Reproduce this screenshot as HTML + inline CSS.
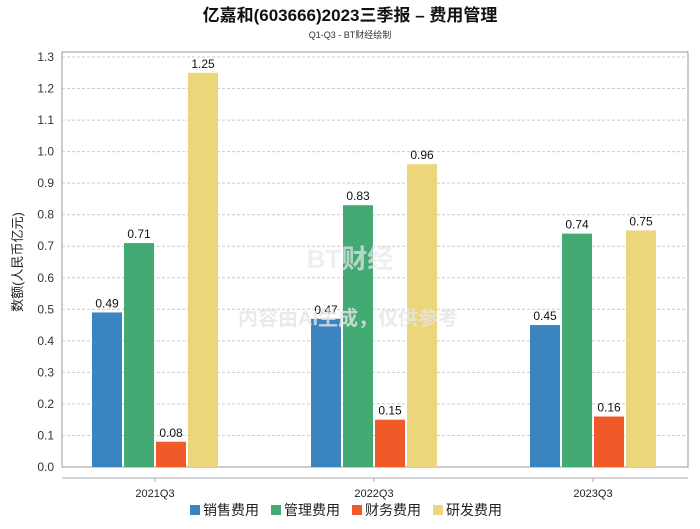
<!DOCTYPE html>
<html><head><meta charset="utf-8"><style>
body{margin:0;background:#fff;font-family:"Liberation Sans","Noto Sans CJK SC",sans-serif}
</style></head><body>
<svg id="c" width="700" height="524" xmlns="http://www.w3.org/2000/svg" font-family="Liberation Sans, Noto Sans CJK SC, sans-serif">
<text x="350" y="21" text-anchor="middle" font-size="17" font-weight="bold" fill="#111">亿嘉和(603666)2023三季报 – 费用管理</text>
<text x="350" y="38" text-anchor="middle" font-size="9" fill="#333">Q1-Q3 - BT财经绘制</text>
<rect x="62" y="52" width="626" height="415" fill="none" stroke="#999"/>
<g id="grid"></g><g id="bars"></g><g id="labels"></g>
<text x="350" y="268" text-anchor="middle" font-size="26" font-weight="bold" fill="#e6eaef" opacity="0.7">BT财经</text>
<text x="348" y="325" text-anchor="middle" font-size="20" font-weight="bold" fill="#e6e6e6" opacity="0.8">内容由AI生成，仅供参考</text>
<line x1="62" y1="478" x2="688" y2="478" stroke="#aaa"/>
<text transform="translate(22,262) rotate(-90)" text-anchor="middle" font-size="13" fill="#222">数额(人民币亿元)</text>
<g id="legend"></g>
</svg>
<script>
const categories=["2021Q3","2022Q3","2023Q3"];
const seriesNames=["销售费用","管理费用","财务费用","研发费用"];
const colors=["#3a84c0","#44aa74","#f05a28","#ecd57a"];
const sales=[0.49,0.47,0.45];
const admin=[0.71,0.83,0.74];
const finance=[0.08,0.15,0.16];
const rnd=[1.25,0.96,0.75];
const ticks=[0,0.1,0.2,0.3,0.4,0.5,0.6,0.7,0.8,0.9,1.0,1.1,1.2,1.3];
const series=[sales,admin,finance,rnd];
const NS="http://www.w3.org/2000/svg";
const y0=467,yTop=57,yMax=1.3;
function y(v){return y0-(v/yMax)*(y0-yTop);}
function gx(i){return 155+219*i;}
function mk(t,a,p){const e=document.createElementNS(NS,t);for(const k in a)e.setAttribute(k,a[k]);p.appendChild(e);return e;}
const grid=document.getElementById('grid'),bars=document.getElementById('bars'),labels=document.getElementById('labels'),legend=document.getElementById('legend');
ticks.forEach(t=>{
 if(t>0){const l=mk('line',{x1:62,x2:688,y1:y(t),y2:y(t),stroke:'#ccc','stroke-dasharray':'3,2'},grid);
 
 }
 const tx=mk('text',{x:54,y:y(t)+4,'text-anchor':'end','font-size':12,fill:'#333'},grid);
 tx.textContent=t.toFixed(1);
 
 
});
categories.forEach((c,i)=>{
 const cx=gx(i);
 const tk=mk('line',{x1:cx,x2:cx,y1:478,y2:482,stroke:'#aaa'},grid);
 
 
 const t=mk('text',{x:cx,y:497,'text-anchor':'middle','font-size':11,fill:'#222'},labels);
 t.textContent=c;
 
 
 series.forEach((s,j)=>{
  const bx=cx-63+j*32;
  const r=mk('rect',{x:bx,y:y(s[i]),width:30,height:y0-y(s[i]),fill:colors[j]},bars);
  
  
  const v=mk('text',{x:bx+15,y:y(s[i])-5,'text-anchor':'middle','font-size':12,fill:'#111'},labels);
  v.textContent=s[i].toFixed(2);
  
  
 });
});
let lx=190;
seriesNames.forEach((n,j)=>{
 const g=mk('g',{},legend);
 
 
 mk('rect',{x:lx,y:505,width:10,height:10,fill:colors[j]},g);
 const t=mk('text',{x:lx+13,y:515,'font-size':14,fill:'#222'},g);
 t.textContent=n;
 lx+=81;
});
</script>
</body></html>
